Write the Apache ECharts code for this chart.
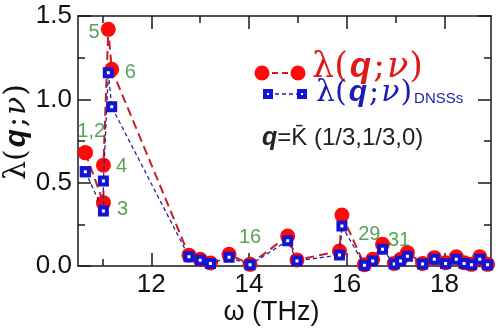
<!DOCTYPE html>
<html>
<head>
<meta charset="utf-8">
<script src="https://cdn.jsdelivr.net/npm/echarts@6/dist/echarts.min.js"></script>
<style>html,body{margin:0;padding:0;background:#fff}#c{width:500px;height:328px}</style>
</head>
<body>
<div id="c"></div>
<script>
// ---- data ----
const omega = [10.65, 10.65, 11.02, 11.02, 11.12, 11.19, 12.77, 13.0, 13.21, 13.59, 14.02, 14.79, 14.98, 15.85, 15.9, 16.36, 16.53, 16.73, 16.97, 17.1, 17.24, 17.55, 17.79, 18.02, 18.24, 18.4, 18.55, 18.72, 18.88];
const lambdaQ = [0.68, 0.68, 0.38, 0.605, 1.42, 1.18, 0.065, 0.04, 0.018, 0.07, 0.01, 0.18, 0.036, 0.09, 0.306, 0.008, 0.04, 0.13, 0.015, 0.04, 0.08, 0.015, 0.05, 0.02, 0.055, 0.02, 0.01, 0.055, 0.01];
const lambdaDNSS = [0.565, 0.565, 0.33, 0.51, 1.16, 0.955, 0.056, 0.035, 0.015, 0.052, 0.008, 0.152, 0.03, 0.066, 0.24, 0.005, 0.03, 0.1, 0.012, 0.03, 0.058, 0.012, 0.04, 0.015, 0.04, 0.015, 0.008, 0.04, 0.008];
const modeLabels = ['5', '6', '1,2', '4', '3', '16', '29', '31'];
const modeLabelX = [10.83, 11.57, 10.77, 11.39, 11.41, 14.02, 16.46, 17.07];
const modeLabelY = [1.40, 1.16, 0.81, 0.60, 0.34, 0.174, 0.19, 0.156];
const xMajorTicks = [12, 14, 16, 18];
const xMinorTicks = [11, 13, 15, 17];

const chart = echarts.init(document.getElementById('c'), null, {renderer: 'canvas'});
const AX = '#1a1a1a';
const RED_LINE = '#c41e2a', RED = '#ff0a0a', BLUE = '#1414d2', BLUE_LINE = '#22229a', GREEN = '#2e8b2e';
const serif = 'DejaVu Serif', sans = 'Liberation Sans';

function xAxisCfg(pos, ticks, len, showLine, showLabels, name) {
  return {
    type: 'value', min: 10.5, max: 18.95, position: pos,
    axisLine: {show: showLine, onZero: false, lineStyle: {color: AX, width: 1.5}},
    axisTick: {show: true, inside: true, length: len, customValues: ticks, lineStyle: {color: AX, width: 1.5}},
    axisLabel: {show: showLabels, customValues: ticks, fontFamily: sans, fontSize: 26, color: '#111', margin: 6},
    splitLine: {show: false},
    name: name || '', nameLocation: 'middle', nameGap: 33, nameMoveOverlap: false,
    nameTextStyle: {fontFamily: sans, fontSize: 27, color: '#111', padding: [0, 26, 0, 0]}
  };
}
function yAxisCfg(pos, showLabels, name) {
  return {
    type: 'value', min: 0, max: 1.5, interval: 0.5, position: pos,
    axisLine: {show: true, lineStyle: {color: AX, width: 1.5}},
    axisTick: {show: true, inside: true, length: 13, lineStyle: {color: AX, width: 1.5}},
    minorTick: {show: true, splitNumber: 2, length: 7, lineStyle: {color: AX, width: 1.5}},
    axisLabel: {show: showLabels, formatter: v => v.toFixed(1), fontFamily: sans, fontSize: 26, color: '#111', margin: 6},
    splitLine: {show: false},
    name: name || '', nameLocation: 'middle', nameGap: 46, nameRotate: 90, nameMoveOverlap: false,
    nameTextStyle: {
      color: '#111', padding: [0, 0, 0, 18],
      rich: {
        l: {fontFamily: serif, fontSize: 30, color: '#111'},
        q: {fontFamily: sans, fontWeight: 'bold', fontStyle: 'italic', fontSize: 30, color: '#111', padding: [0, 2, 0, 2]},
        n: {fontFamily: serif, fontStyle: 'italic', fontSize: 30, color: '#111', padding: [0, 1, 0, 2]}
      }
    }
  };
}

const labelData = modeLabels.map((t, i) => ({name: t, value: [modeLabelX[i], modeLabelY[i]]}));

const legendRich = (col, big) => ({
  l: {fontFamily: serif, fontSize: big, fill: col},
  q: {fontFamily: sans, fontWeight: 'bold', fontStyle: 'italic', fontSize: big, fill: col, padding: [0, 2, 0, 2]},
  n: {fontFamily: serif, fontStyle: 'italic', fontSize: big, fill: col, padding: [0, 1, 0, 2]},
  s: {fontFamily: sans, fontSize: 15, fill: col, verticalAlign: 'bottom', padding: [0, 0, 2, 2]}
});

chart.setOption({
  animation: false,
  grid: {left: 78, right: 9, top: 16, bottom: 62, containLabel: false, outerBoundsMode: 'none'},
  xAxis: [
    xAxisCfg('bottom', xMajorTicks, 13, true, true, 'ω (THz)'),
    xAxisCfg('bottom', xMinorTicks, 7, false, false),
    xAxisCfg('top', xMajorTicks, 13, true, false),
    xAxisCfg('top', xMinorTicks, 7, false, false)
  ],
  yAxis: [
    yAxisCfg('left', true, '{l|λ(}{q|q}{l|;}{n|ν}{l|)}'),
    yAxisCfg('right', false)
  ],
  series: [
    {
      type: 'line', xAxisIndex: 0, yAxisIndex: 0, z: 2,
      data: omega.map((w, i) => [w, lambdaQ[i]]),
      symbol: 'circle', symbolSize: 15,
      itemStyle: {color: RED},
      lineStyle: {color: RED_LINE, width: 2, type: [9, 5]}
    },
    {
      type: 'line', xAxisIndex: 0, yAxisIndex: 0, z: 3,
      data: omega.map((w, i) => [w, lambdaDNSS[i]]),
      symbol: 'rect', symbolSize: 7,
      itemStyle: {color: '#ffffff', borderColor: BLUE, borderWidth: 4},
      lineStyle: {color: BLUE_LINE, width: 1.3, type: [4, 3]}
    },
    {
      type: 'scatter', xAxisIndex: 0, yAxisIndex: 0, z: 4,
      data: labelData, symbolSize: 0, silent: true,
      label: {show: true, position: 'inside', formatter: p => p.name, fontFamily: sans, fontSize: 20, color: GREEN}
    }
  ],
  graphic: [
    {type: 'line', shape: {x1: 262, y1: 73, x2: 298, y2: 73}, style: {stroke: RED_LINE, lineWidth: 2, lineDash: [6, 4]}},
    {type: 'circle', shape: {cx: 262, cy: 73, r: 7.5}, style: {fill: RED}},
    {type: 'circle', shape: {cx: 298, cy: 73, r: 7.5}, style: {fill: RED}},
    {type: 'text', left: 312, top: 50, style: {text: '{l|λ(}{q|q}{l|;}{n|ν}{l|)}', rich: legendRich('#e01818', 35)}},
    {type: 'line', shape: {x1: 268, y1: 94, x2: 302, y2: 94}, style: {stroke: BLUE_LINE, lineWidth: 1.3, lineDash: [4, 3]}},
    {type: 'rect', shape: {x: 265, y: 91, width: 6, height: 6}, style: {fill: '#fff', stroke: BLUE, lineWidth: 4}},
    {type: 'rect', shape: {x: 299, y: 91, width: 6, height: 6}, style: {fill: '#fff', stroke: BLUE, lineWidth: 4}},
    {type: 'text', left: 316, top: 78, style: {text: '{l|λ(}{q|q}{l|;}{n|ν}{l|)}{s|DNSSs}', rich: legendRich('#1c1cb4', 30)}},
    {type: 'text', left: 262, top: 126, style: {text: '{q|q}{t|=K\u0304 (1/3,1/3,0)}', rich: {
      q: {fontFamily: sans, fontWeight: 'bold', fontStyle: 'italic', fontSize: 25, fill: '#222'},
      t: {fontFamily: sans, fontSize: 24, fill: '#222'}
    }}}
  ]
});
</script>
</body>
</html>
